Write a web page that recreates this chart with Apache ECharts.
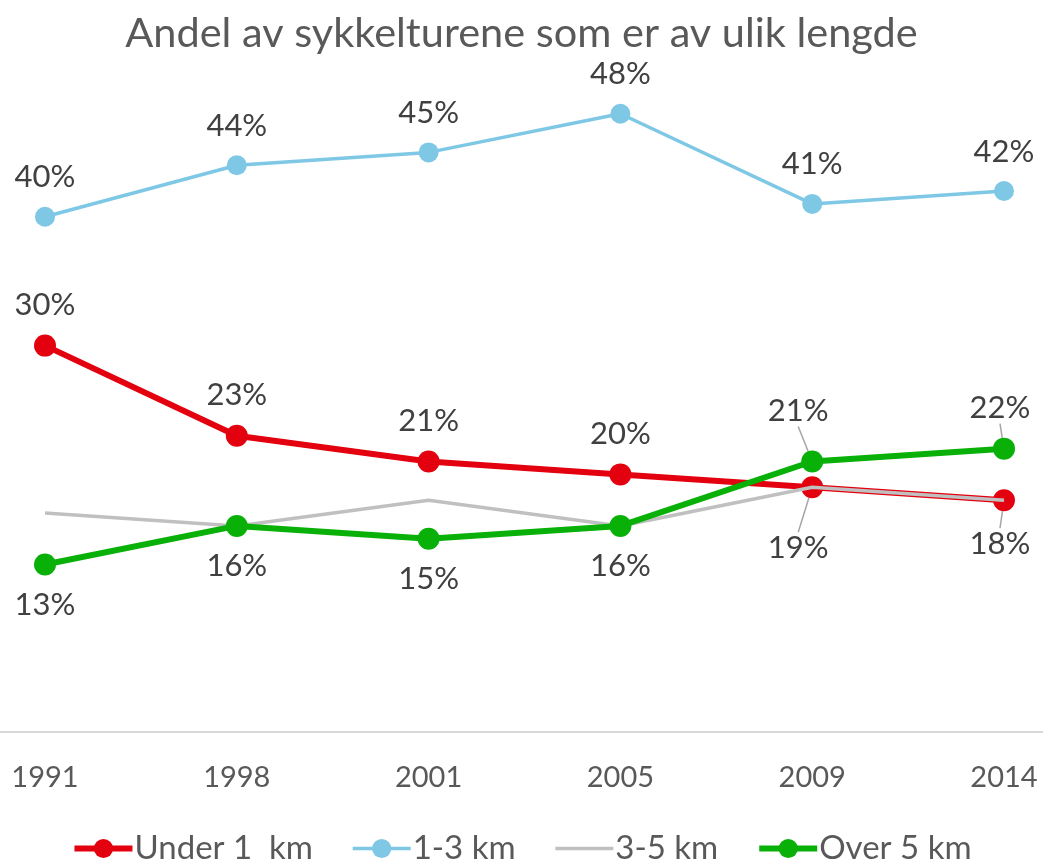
<!DOCTYPE html>
<html>
  <head>
    <title>Andel av sykkelturene</title>
    <meta charset="utf-8">
    <script type="text/javascript" src="https://cdn.jsdelivr.net/npm/echarts@6/dist/echarts.min.js"></script>
    <style>
      html, body { margin: 0; padding: 0; background: #fff; }
    </style>
  </head>
  <body>
  <div id="main" style="width: 1043px;height:862px;"></div>

  <script type="text/javascript">
    // data
    var years = ['1991', '1998', '2001', '2005', '2009', '2014'];
    var under1 = [30, 23, 21, 20, 19, 18];
    var km1to3 = [40, 44, 45, 48, 41, 42];
    var km3to5 = [17, 16, 18, 16, 19, 18];
    var over5 = [13, 16, 15, 16, 21, 22];
    var seriesNames = ['Under 1  km', '1-3 km', '3-5 km', 'Over 5 km'];

    var FONT = 'Lato';
    var labelColor = '#404040';

    // label above / below the point, leader line only where the label was moved
    function labels(values, places, guided) {
      return values.map(function (v, i) {
        return {
          value: v,
          label: { position: places[i] },
          labelLine: { show: !!(guided && guided[i]) }
        };
      });
    }

    var dom = document.getElementById('main');
    var myChart = echarts.init(dom, null, { renderer: 'canvas' });

    var lbl = {
      show: true,
      formatter: '{c}%',
      color: labelColor,
      fontFamily: FONT,
      fontSize: 31,
      distance: 14
    };
    var guide = { show: true, lineStyle: { color: '#a6a6a6', width: 1.5 } };
    var moved = [false, false, false, false, true, true];

    var option = {
      animation: false,
      title: {
        text: 'Andel av sykkelturene som er av ulik lengde',
        left: 'center',
        top: 8,
        textStyle: { color: '#595959', fontFamily: FONT, fontSize: 41.5, fontWeight: 'normal' }
      },
      legend: {
        top: 832,
        left: 'center',
        padding: 0,
        itemWidth: 58,
        itemHeight: 24,
        itemGap: 38,
        lineStyle: { width: 'inherit' },
        data: [
          seriesNames[0],
          seriesNames[1],
          { name: seriesNames[2], itemStyle: { opacity: 0 } },
          seriesNames[3]
        ],
        textStyle: { color: '#595959', fontFamily: FONT, fontSize: 33, padding: [0, 0, 0, -3] }
      },
      grid: [
        { left: 45, right: 39, top: 88, bottom: 130 },
        { left: 0, right: 0, top: 88, bottom: 130 }
      ],
      xAxis: [
        {
          type: 'category',
          data: years,
          boundaryGap: false,
          axisLine: { show: false },
          axisTick: { show: false },
          axisLabel: { color: '#595959', fontFamily: FONT, fontSize: 29, margin: 31 }
        },
        {
          // full-width baseline
          type: 'category',
          gridIndex: 1,
          data: years,
          axisLine: { lineStyle: { color: '#d9d9d9', width: 2 } },
          axisTick: { show: false },
          axisLabel: { show: false }
        }
      ],
      yAxis: [
        { type: 'value', min: 0, max: 50, show: false, splitLine: { show: false } },
        { type: 'value', gridIndex: 1, min: 0, max: 50, show: false, splitLine: { show: false } }
      ],
      series: [
        {
          name: seriesNames[0],
          type: 'line',
          data: labels(under1, ['top', 'top', 'top', 'top', 'bottom', 'bottom'], moved),
          color: '#e3000f',
          lineStyle: { width: 6 },
          symbol: 'circle',
          symbolSize: 22,
          label: lbl,
          labelLine: guide,
          labelLayout: function (p) {
            if (p.dataIndex === 4) return { dx: -14, dy: 20 };
            if (p.dataIndex === 5) return { dx: -4, dy: 3 };
          },
          z: 2
        },
        {
          name: seriesNames[1],
          type: 'line',
          data: labels(km1to3, ['top', 'top', 'top', 'top', 'top', 'top']),
          color: '#7ec8e6',
          lineStyle: { width: 3.5 },
          symbol: 'circle',
          symbolSize: 20,
          label: lbl,
          z: 3
        },
        {
          name: seriesNames[2],
          type: 'line',
          data: km3to5,
          color: '#c0c0c0',
          lineStyle: { width: 3.5 },
          symbol: 'none',
          z: 4
        },
        {
          name: seriesNames[3],
          type: 'line',
          data: labels(over5, ['bottom', 'bottom', 'bottom', 'bottom', 'top', 'top'], moved),
          color: '#08b008',
          lineStyle: { width: 6 },
          symbol: 'circle',
          symbolSize: 22,
          label: lbl,
          labelLine: guide,
          labelLayout: function (p) {
            if (p.dataIndex === 4) return { dx: -14, dy: -10 };
            if (p.dataIndex === 5) return { dx: -4, dy: 0 };
          },
          z: 5
        }
      ]
    };

    myChart.setOption(option);
  </script>
  </body>
</html>
